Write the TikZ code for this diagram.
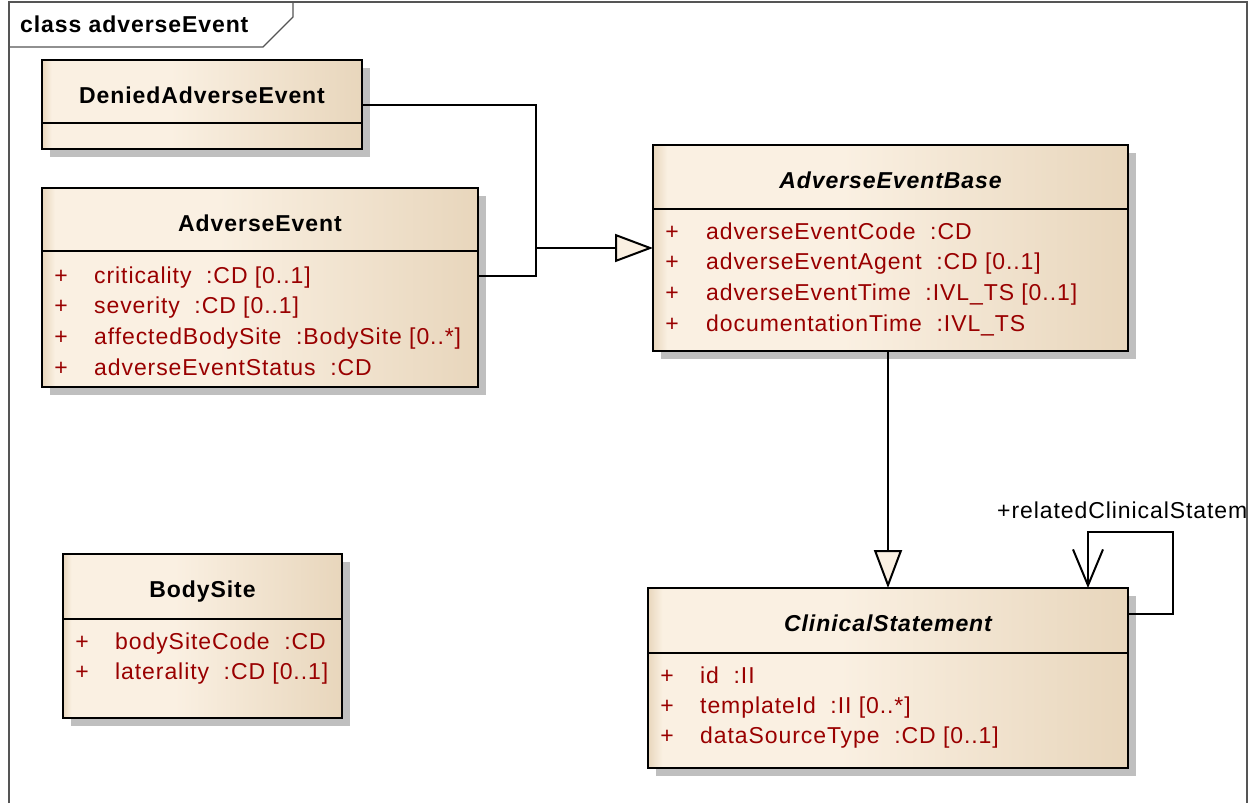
\documentclass[tikz,border=0pt]{standalone}
\usepackage{fontspec}
\setmainfont{Liberation Sans}[LetterSpace=4]
\usetikzlibrary{arrows.meta,shadows}

\definecolor{umlLight}{HTML}{FAF0E2}
\definecolor{umlDark}{HTML}{E8D6BC}
\definecolor{attrRed}{HTML}{990000}
\definecolor{frameGrey}{HTML}{555555}

\pgfdeclarehorizontalshading{umlfill}{100bp}{color(0bp)=(umlDark); color(25bp)=(umlDark); color(26.5bp)=(umlLight); color(45bp)=(umlLight); color(75bp)=(umlDark); color(100bp)=(umlDark)}

\tikzset{
  classbox/.style={draw, line width=1.8pt, shade, shading=umlfill, anchor=north west,
    inner sep=0pt, outer sep=0pt,
    drop shadow={shadow xshift=8pt, shadow yshift=-8pt, fill=black!25, opacity=1}},
  sep/.style={line width=1.8pt},
  classname/.style={font=\fontsize{23}{27}\selectfont\bfseries, anchor=base, inner sep=0pt},
  absname/.style={classname, font=\fontsize{23}{27}\selectfont\bfseries\itshape},
  attr/.style={font=\fontsize{23}{27}\selectfont, text=attrRed, anchor=base west, inner sep=0pt},
  vis/.style={attr, anchor=base},
  conn/.style={line width=2pt},
  gen/.style={conn, -{Triangle[length=38pt, width=28pt, fill=umlLight]}},
  nav/.style={conn, -{Straight Barb[length=36pt, width=30pt]}},
  frame/.style={draw=frameGrey, line width=1.4pt}
}

\begin{document}
\begin{tikzpicture}[x=1pt, y=-1pt]
  \useasboundingbox (0,0) rectangle (1260,803);

  % cadre du diagramme
  \draw[frame] (9,803) -- (9,2) -- (1247,2) -- (1247,803);
  \draw[frame] (9,47) -- (263,47) -- (293,17) -- (293,2);
  \node[font=\fontsize{23}{27}\selectfont\bfseries, anchor=base west, inner sep=0pt] (tab) at (20,32) {class adverseEvent};

  % DeniedAdverseEvent
  \node[classbox, minimum width=320pt, minimum height=89pt] (denied) at (42,60) {};
  \draw[sep] (denied.west |- 0,123) -- (denied.east |- 0,123);
  \node[classname] (deniedT) at (202,103) {DeniedAdverseEvent};

  % AdverseEvent
  \node[classbox, minimum width=436pt, minimum height=199pt] (ae) at (42,188) {};
  \draw[sep] (ae.west |- 0,251) -- (ae.east |- 0,251);
  \node[classname] (aeT) at (260,231) {AdverseEvent};
  \foreach \txt [count=\i] in {{criticality\ \ :CD [0..1]}, {severity\ \ :CD [0..1]},
      {affectedBodySite\ \ :BodySite [0..*]}, {adverseEventStatus\ \ :CD}}{
    \node[vis] (aeP\i) at (61,{283+(\i-1)*30.7}) {+};
    \node[attr] (aeA\i) at (94,{283+(\i-1)*30.7}) {\txt};
  }

  % AdverseEventBase
  \node[classbox, minimum width=475pt, minimum height=206pt] (aeb) at (653,145) {};
  \draw[sep] (aeb.west |- 0,209) -- (aeb.east |- 0,209);
  \node[absname] (aebT) at (890.5,188) {AdverseEventBase};
  \foreach \txt [count=\i] in {{adverseEventCode\ \ :CD}, {adverseEventAgent\ \ :CD [0..1]},
      {adverseEventTime\ \ :IVL\_TS [0..1]}, {documentationTime\ \ :IVL\_TS}}{
    \node[vis] (aebP\i) at (672,{239+(\i-1)*30.8}) {+};
    \node[attr] (aebA\i) at (706,{239+(\i-1)*30.8}) {\txt};
  }

  % BodySite
  \node[classbox, minimum width=279pt, minimum height=164pt] (bs) at (63,554) {};
  \draw[sep] (bs.west |- 0,619) -- (bs.east |- 0,619);
  \node[classname] (bsT) at (202.5,597) {BodySite};
  \foreach \txt [count=\i] in {{bodySiteCode\ \ :CD}, {laterality\ \ :CD [0..1]}}{
    \node[vis] (bsP\i) at (82,{649+(\i-1)*30}) {+};
    \node[attr] (bsA\i) at (115,{649+(\i-1)*30}) {\txt};
  }

  % ClinicalStatement
  \node[classbox, minimum width=480pt, minimum height=180pt] (cs) at (648,588) {};
  \draw[sep] (cs.west |- 0,653) -- (cs.east |- 0,653);
  \node[absname] (csT) at (888,631) {ClinicalStatement};
  \foreach \txt [count=\i] in {{id\ \ :II}, {templateId\ \ :II [0..*]}, {dataSourceType\ \ :CD [0..1]}}{
    \node[vis] (csP\i) at (667,{683+(\i-1)*30}) {+};
    \node[attr] (csA\i) at (700,{683+(\i-1)*30}) {\txt};
  }

  % généralisations
  \coordinate (junc) at (536,248);
  \draw[conn] (denied.east) -| (junc);
  \draw[conn] ([yshift=12pt]ae.east) -| (junc);
  \draw[gen] (junc) -- (aeb.west);
  \draw[gen] (aeb.south -| cs.north) -- (cs.north);

  % association réflexive
  \draw[nav] ([yshift=-26pt]cs.north east) -- ++(45,0) |- ([xshift=200pt,yshift=56pt]cs.north) -- ([xshift=200pt]cs.north);
  \node[font=\fontsize{23}{27}\selectfont, anchor=base west, inner sep=0pt] (role) at (997,518) {+relatedClinicalStatem};
\end{tikzpicture}
\end{document}
